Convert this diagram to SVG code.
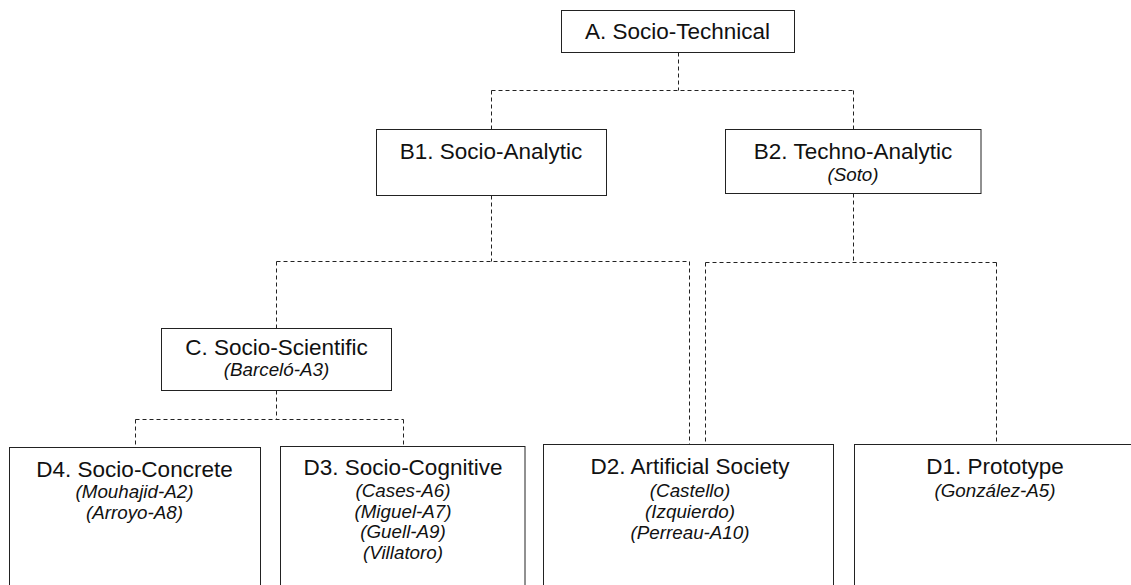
<svg xmlns="http://www.w3.org/2000/svg" width="1131" height="585" viewBox="0 0 1131 585">
<style>
.box{fill:#fff;stroke:#222;stroke-width:1}
.t{font-family:"Liberation Sans",Arial,sans-serif;font-size:22.5px;fill:#111;text-anchor:middle}
.s{font-family:"Liberation Sans",Arial,sans-serif;font-size:18.8px;font-style:italic;fill:#111;text-anchor:middle}
.c{fill:none;stroke:#222;stroke-width:1;stroke-dasharray:4 3}
</style>
<rect width="1131" height="585" fill="#fff"/>
<g id="connectors">
<path class="c" d="M678.5 52.5V90.5M491.5 90.5H853.5M491.5 90.5V129M853.5 90.5V129"/>
<path class="c" d="M491.5 195.5V261.5M276.5 261.5H689.5M276.5 261.5V328M689.5 261.5V444"/>
<path class="c" d="M853.5 193.5V262.5M705.5 262.5H996.5M705.5 262.5V444M996.5 262.5V444"/>
<path class="c" d="M276.5 390.5V419.5M135.5 419.5H403.5M135.5 419.5V447M403.5 419.5V446"/>
</g>
<g id="A">
<rect class="box" x="561.5" y="10.5" width="233" height="42"/>
<text class="t" x="677.5" y="39">A. Socio-Technical</text>
</g>
<g id="B1">
<rect class="box" x="376.5" y="129.5" width="230" height="66"/>
<text class="t" x="491" y="159">B1. Socio-Analytic</text>
</g>
<g id="B2">
<rect class="box" x="725.5" y="129.5" width="255.5" height="64"/>
<text class="t" x="853" y="159">B2. Techno-Analytic</text>
<text class="s" x="853" y="181">(Soto)</text>
</g>
<g id="C">
<rect class="box" x="161.5" y="328.5" width="230" height="62"/>
<text class="t" x="276.5" y="355">C. Socio-Scientific</text>
<text class="s" x="276.5" y="376">(Barceló-A3)</text>
</g>
<g id="D4">
<rect class="box" x="9.5" y="447.5" width="251" height="150"/>
<text class="t" x="134.5" y="477">D4. Socio-Concrete</text>
<text class="s" x="134.5" y="498">(Mouhajid-A2)</text>
<text class="s" x="134.5" y="519">(Arroyo-A8)</text>
</g>
<g id="D3">
<rect class="box" x="280.5" y="446.5" width="244.5" height="150"/>
<text class="t" x="403" y="475">D3. Socio-Cognitive</text>
<text class="s" x="403" y="497">(Cases-A6)</text>
<text class="s" x="403" y="517.5">(Miguel-A7)</text>
<text class="s" x="403" y="538">(Guell-A9)</text>
<text class="s" x="403" y="558.5">(Villatoro)</text>
</g>
<g id="D2">
<rect class="box" x="543.5" y="444.5" width="290" height="150"/>
<text class="t" x="690" y="473.5">D2. Artificial Society</text>
<text class="s" x="690" y="497">(Castello)</text>
<text class="s" x="690" y="518">(Izquierdo)</text>
<text class="s" x="690" y="539">(Perreau-A10)</text>
</g>
<g id="D1">
<rect class="box" x="854.5" y="444.5" width="300" height="150"/>
<text class="t" x="995" y="473.5">D1. Prototype</text>
<text class="s" x="995" y="497">(González-A5)</text>
</g>
</svg>
